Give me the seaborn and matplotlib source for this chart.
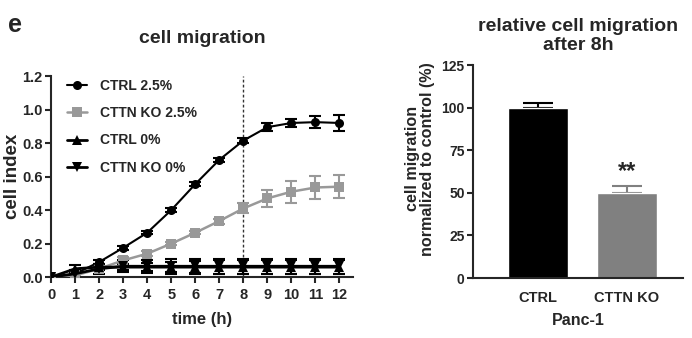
import numpy as np
import pandas as pd
import seaborn as sns
import matplotlib.pyplot as plt

# time course (cell index)
hours = list(range(13))
ctrl_25 = [0.0, 0.02, 0.09, 0.175, 0.265, 0.40, 0.555, 0.70, 0.815, 0.895, 0.92, 0.925, 0.92]
ctrl_25_err = [0.0, 0.005, 0.01, 0.01, 0.01, 0.01, 0.01, 0.01, 0.015, 0.025, 0.025, 0.035, 0.045]
ko_25 = [0.0, 0.01, 0.05, 0.10, 0.14, 0.20, 0.265, 0.335, 0.41, 0.47, 0.51, 0.535, 0.54]
ko_25_err = [0.0, 0.005, 0.01, 0.02, 0.015, 0.01, 0.01, 0.015, 0.03, 0.05, 0.065, 0.07, 0.07]
ctrl_0 = [0.0, 0.05, 0.06, 0.06, 0.06, 0.06, 0.06, 0.06, 0.06, 0.06, 0.06, 0.06, 0.06]
ctrl_0_err = [0.0, 0.02, 0.02, 0.02, 0.025, 0.03, 0.035, 0.04, 0.04, 0.04, 0.04, 0.04, 0.04]
ko_0 = [0.0, 0.02, 0.05, 0.065, 0.065, 0.065, 0.065, 0.065, 0.065, 0.065, 0.065, 0.065, 0.065]
ko_0_err = [0.0, 0.02, 0.03, 0.035, 0.04, 0.045, 0.045, 0.045, 0.045, 0.045, 0.045, 0.045, 0.045]

series_names = ["CTRL 2.5%", "CTTN KO 2.5%", "CTRL 0%", "CTTN KO 0%"]

# relative migration after 8h
groups = ["CTRL", "CTTN KO"]
rel_migration = [100, 50]
rel_err = [3, 4]

sns.set_style("ticks")
plt.rcParams['font.family'] = ['Liberation Sans', 'DejaVu Sans']
plt.rcParams['font.weight'] = 'bold'
plt.rcParams['axes.labelweight'] = 'bold'
plt.rcParams['axes.titleweight'] = 'bold'

fig = plt.figure(figsize=(6.92, 3.38), dpi=100)
ax1 = fig.add_axes([0.0737, 0.180, 0.436, 0.595])
ax2 = fig.add_axes([0.6835, 0.1775, 0.3035, 0.630])

df = pd.DataFrame({
    "time": hours * 4,
    "value": ctrl_25 + ko_25 + ctrl_0 + ko_0,
    "err": ctrl_25_err + ko_25_err + ctrl_0_err + ko_0_err,
    "series": np.repeat(series_names, len(hours)),
})

colors = {"CTRL 2.5%": "black", "CTTN KO 2.5%": "#999999",
          "CTRL 0%": "black", "CTTN KO 0%": "black"}
markers = {"CTRL 2.5%": "o", "CTTN KO 2.5%": "s", "CTRL 0%": "^", "CTTN KO 0%": "v"}
lws = {"CTRL 2.5%": 1.5, "CTTN KO 2.5%": 1.8, "CTRL 0%": 2.0, "CTTN KO 0%": 2.0}

ax1.axvline(8, color="#333333", linestyle=(0, (2, 1.6)), lw=1.0, zorder=1)

for name in series_names:
    sub = df[df["series"] == name]
    ax1.errorbar(sub["time"], sub["value"], yerr=sub["err"], fmt="none",
                 ecolor=colors[name], elinewidth=1.5, capsize=4, capthick=1.5, zorder=2)
    sns.lineplot(data=sub, x="time", y="value", ax=ax1, color=colors[name],
                 marker=markers[name], markersize=6.5, markeredgewidth=0,
                 linewidth=lws[name], label=name, zorder=3)

ax1.set_xlim(0, 12.55)
ax1.set_ylim(0, 1.2)
ax1.set_xticks(range(13))
ax1.set_yticks([0, 0.2, 0.4, 0.6, 0.8, 1.0, 1.2])
ax1.set_yticklabels(["0.0", "0.2", "0.4", "0.6", "0.8", "1.0", "1.2"])
ax1.set_xlabel("time (h)", fontsize=12, labelpad=7)
ax1.set_ylabel("cell index", fontsize=13.5, labelpad=1)
ax1.set_title("cell migration", fontsize=14, pad=24)
ax1.tick_params(labelsize=10.5, width=1.5, length=4, pad=2)
ax1.tick_params(axis="x", pad=4)
for s in ["left", "bottom"]:
    ax1.spines[s].set_linewidth(1.5)
sns.despine(ax=ax1)
ax1.legend(loc="upper left", bbox_to_anchor=(0.053, 0.985), frameon=False,
           borderpad=0, borderaxespad=0,
           handlelength=1.45, labelspacing=0.95, handletextpad=0.95,
           prop={"weight": "bold", "size": 10})

# bar chart
bar_colors = {"CTRL": "black", "CTTN KO": "#808080"}
bar_df = pd.DataFrame({"group": groups, "value": rel_migration})
sns.barplot(data=bar_df, x="group", y="value", hue="group",
            palette=bar_colors, width=0.67, legend=False, ax=ax2, zorder=2)
for i, g in enumerate(groups):
    ax2.errorbar([i], [rel_migration[i]], yerr=[[0], [rel_err[i]]], fmt="none",
                 ecolor=bar_colors[g], elinewidth=1.5, capsize=10.5, capthick=1.5, zorder=1)
ax2.text(1, 56, "**", ha="center", va="bottom", fontsize=17, fontweight="bold")
ax2.set_xlim(-0.73, 1.63)
ax2.set_ylim(0, 125)
ax2.set_yticks([0, 25, 50, 75, 100, 125])
ax2.set_xlabel("Panc-1", fontsize=11.5, labelpad=6)
ax2.set_ylabel("cell migration\nnormalized to control (%)", fontsize=11.6, linespacing=1.0)
ax2.yaxis.set_label_coords(-0.18, 0.56)
ax2.set_title("relative cell migration\nafter 8h", fontsize=14, pad=11, linespacing=1.1)
ax2.tick_params(labelsize=10, width=1.5, length=4, pad=2)
ax2.tick_params(axis="x", length=0, pad=9, labelsize=10.5)
for s in ["left", "bottom"]:
    ax2.spines[s].set_linewidth(1.5)
sns.despine(ax=ax2)

fig.text(0.012, 0.925, "e", fontsize=18, fontweight="bold", va="center")

fig.savefig("out.png", dpi=100)
